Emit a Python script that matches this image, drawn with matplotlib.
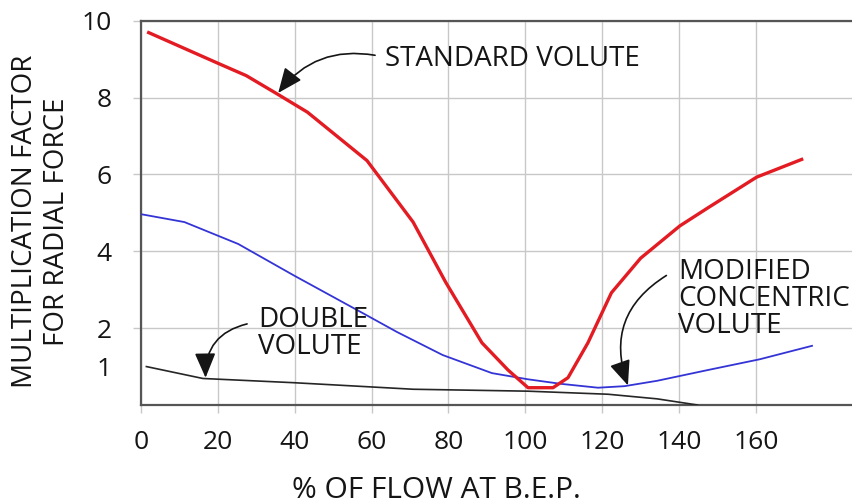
import numpy as np
import matplotlib
matplotlib.use("Agg")
import matplotlib.pyplot as plt

plt.rcParams['font.family'] = ['Open Sans', 'DejaVu Sans']

# ── data ─────────────────────────────────────────────────────────────────────
std_x = [2, 20.3, 27.4, 35, 43.3, 58.8, 70.8, 79.3, 88.7, 95.5, 100.7, 107.2,
         111.1, 116.3, 122.4, 130, 140.2, 147.5, 160.2, 171.9]
std_y = [9.69, 8.88, 8.57, 8.12, 7.62, 6.36, 4.76, 3.19, 1.62, 0.91, 0.45, 0.45,
         0.71, 1.62, 2.92, 3.82, 4.66, 5.13, 5.93, 6.39]

mod_x = [0.3, 11.3, 25.3, 39.8, 57.9, 66.6, 78.5, 91.3, 100.6, 109.3, 118.9,
         125.8, 134.3, 147.5, 161, 174.6]
mod_y = [4.96, 4.76, 4.19, 3.37, 2.38, 1.9, 1.30, 0.83, 0.67, 0.55, 0.45,
         0.49, 0.63, 0.91, 1.19, 1.54]

dbl_x = [1.4, 16.1, 39.8, 59.9, 70.8, 100.6, 121.5, 134.3, 144.8]
dbl_y = [1.0, 0.69, 0.58, 0.47, 0.41, 0.36, 0.28, 0.16, 0.0]

x_ticks = [0, 20, 40, 60, 80, 100, 120, 140, 160]
y_ticks = [1, 2, 4, 6, 8, 10]

GRID = "#c8c8c8"
SPINE = "#555555"
TXT = "#151515"
FS = 20

fig = plt.figure(figsize=(8.52, 5.04), dpi=100)
ax = fig.add_axes([141 / 852, 1 - 405 / 504, 1 - 141 / 852, (405 - 20.7) / 504])

ax.plot(mod_x, mod_y, color="#3434d6", lw=1.3, zorder=3)
ax.plot(dbl_x, dbl_y, color="#262626", lw=1.2, zorder=3)
ax.plot(std_x, std_y, color="#e31b23", lw=2.4, zorder=4)

ax.set_xlim(0, 185)
ax.set_ylim(0, 10)
ax.set_xticks(x_ticks)
ax.set_yticks(y_ticks)
ax.set_xticklabels([str(v) for v in x_ticks])
ax.set_yticklabels([str(v) for v in y_ticks])
ax.grid(True, color=GRID, lw=1.0)
ax.set_axisbelow(True)

ax.tick_params(axis="both", length=6, width=1.0, color=GRID,
               labelsize=19, labelcolor=TXT)
ax.tick_params(axis="x", pad=12)
ax.tick_params(axis="y", pad=15)
# no tick/grid line at y = 1, only the label
t1 = ax.yaxis.get_major_ticks()[0]
t1.tick1line.set_visible(False)
t1.gridline.set_visible(False)

for side in ("left", "top", "bottom"):
    ax.spines[side].set_color(SPINE)
    ax.spines[side].set_linewidth(1.6)
ax.spines["right"].set_visible(False)

fig.text(41 / 852, 1 - 221.5 / 504, "MULTIPLICATION FACTOR\nFOR RADIAL FORCE",
         rotation=90, ha="center", va="center", fontsize=FS, color=TXT,
         linespacing=1.15)
fig.text(436 / 852, 1 - 490 / 504, "% OF FLOW AT B.E.P.", ha="center",
         va="center", fontsize=21.5, color=TXT)

# annotations
arrow_kw = dict(arrowstyle="-|>,head_length=0.9,head_width=0.38",
                color="#151515", lw=1.2, shrinkA=0, shrinkB=0,
                mutation_scale=17)

ax.text(63.5, 9.0, "STANDARD VOLUTE", ha="left", va="center",
        fontsize=FS, color=TXT)
ax.annotate("", xy=(35.7, 8.12), xytext=(60.9, 9.1),
            arrowprops=dict(connectionstyle="arc3,rad=0.3", **arrow_kw))

ax.text(30.5, 1.87, "DOUBLE\nVOLUTE", ha="left", va="center",
        fontsize=FS, color=TXT, linespacing=0.95)
ax.annotate("", xy=(16.8, 0.71), xytext=(27.6, 2.11),
            arrowprops=dict(connectionstyle="arc3,rad=0.4", **arrow_kw))

ax.text(139.7, 2.75, "MODIFIED\nCONCENTRIC\nVOLUTE", ha="left", va="center",
        fontsize=FS, color=TXT, linespacing=0.95)
ax.annotate("", xy=(126.7, 0.51), xytext=(136.7, 3.37),
            arrowprops=dict(connectionstyle="arc3,rad=0.4", **arrow_kw))

fig.savefig("out.png", dpi=100)
